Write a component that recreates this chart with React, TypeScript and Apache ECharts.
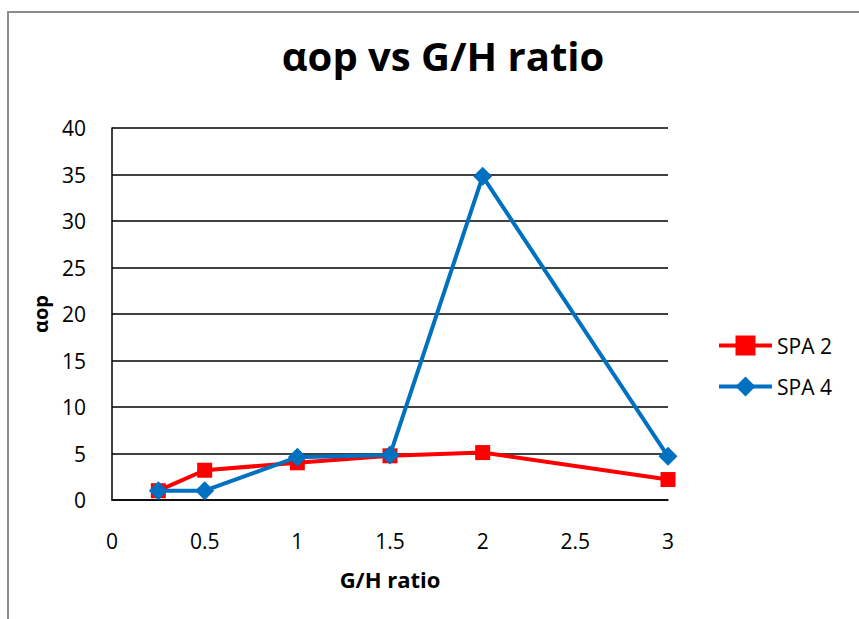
import React, { useEffect, useRef } from "react";
import * as echarts from "echarts";

const xTicks = [0, 0.5, 1, 1.5, 2, 2.5, 3];
const ratios = [0.25, 0.5, 1, 1.5, 2, 3];
const spa2 = [1.0, 3.2, 4.0, 4.75, 5.1, 2.2];
const spa4 = [1.0, 1.0, 4.6, 4.85, 34.8, 4.7];
const seriesNames = ["SPA 2", "SPA 4"];

const FONT = "'Open Sans', 'Noto Sans', sans-serif";

export default function App() {
  const ref = useRef<HTMLDivElement>(null);
  useEffect(() => {
    if (!ref.current) return;
    const chart = echarts.init(ref.current, undefined, { renderer: "svg" });
    const toPairs = (ys: number[]) => ratios.map((x, i) => [x, ys[i]]);
    chart.setOption({
      animation: false,
      backgroundColor: "#fff",
      title: {
        text: "αop vs G/H ratio",
        left: 438,
        top: 30,
        textAlign: "center",
        textStyle: { fontFamily: FONT, fontSize: 40, fontWeight: "bold", color: "#000" },
      },
      graphic: [
        {
          type: "rect",
          shape: { x: 8, y: 12, width: 1000, height: 800 },
          style: { fill: "none", stroke: "#8c8c8c", lineWidth: 2 },
          silent: true,
        },
      ],
      grid: { left: 112, right: 191, top: 128, bottom: 119 },
      legend: {
        orient: "vertical",
        left: 712,
        top: 330,
        padding: 5,
        itemWidth: 53,
        itemHeight: 25,
        itemGap: 20,
        data: seriesNames,
        lineStyle: { width: 4 },
        textStyle: { fontFamily: FONT, fontSize: 21, color: "#000" },
      },
      xAxis: {
        type: "value",
        min: 0,
        max: 3,
        interval: 0.5,
        name: "G/H ratio",
        nameLocation: "middle",
        nameGap: 68,
        nameTextStyle: { fontFamily: FONT, fontSize: 22, fontWeight: "bold", color: "#000" },
        axisLine: { show: true, lineStyle: { color: "#000", width: 1.5 } },
        axisTick: { show: false },
        splitLine: { show: false },
        axisLabel: {
          fontFamily: FONT,
          fontSize: 21,
          color: "#000",
          margin: 30,
          formatter: (v: number) => (xTicks.includes(v) ? String(v) : ""),
        },
      },
      yAxis: {
        type: "value",
        min: 0,
        max: 40,
        interval: 5,
        name: "αop",
        nameLocation: "middle",
        nameGap: 62,
        nameRotate: 90,
        nameTextStyle: { fontFamily: FONT, fontSize: 20, fontWeight: "bold", color: "#000" },
        axisLine: { show: true, lineStyle: { color: "#000", width: 1.5 } },
        axisTick: { show: false },
        splitLine: { show: true, lineStyle: { color: "#000", width: 1.5 } },
        axisLabel: { fontFamily: FONT, fontSize: 21, color: "#000", margin: 26 },
      },
      series: [
        {
          name: seriesNames[0],
          type: "line",
          data: toPairs(spa2),
          symbol: "rect",
          symbolSize: 15,
          lineStyle: { color: "#ff0000", width: 4 },
          itemStyle: { color: "#ff0000" },
          z: 2,
        },
        {
          name: seriesNames[1],
          type: "line",
          data: toPairs(spa4),
          symbol: "diamond",
          symbolSize: 19,
          lineStyle: { color: "#0070c0", width: 4 },
          itemStyle: { color: "#0070c0" },
          z: 3,
        },
      ],
    });
    return () => chart.dispose();
  }, []);
  return (
    <div
      ref={ref}
      style={{ position: "fixed", left: 0, top: 0, width: 859, height: 619 }}
    />
  );
}
